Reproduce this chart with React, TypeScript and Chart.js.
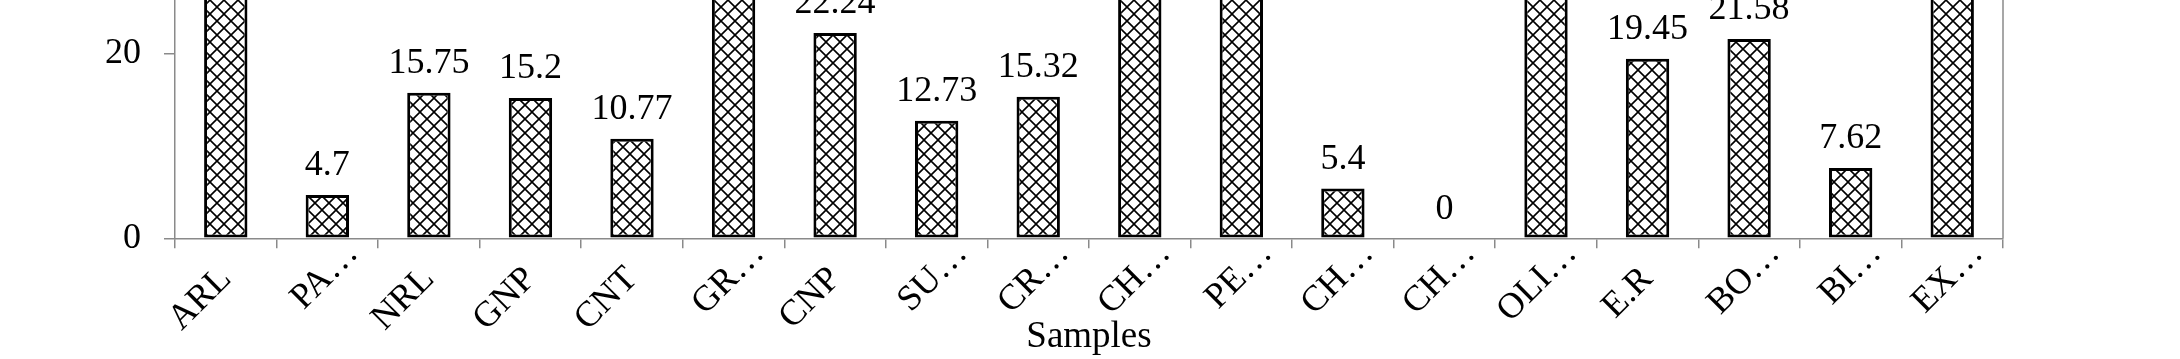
import React, { useEffect, useRef } from 'react';
import { Chart, registerables } from 'chart.js';

Chart.register(...registerables);

const categories = ['ARL', 'PA…', 'NRL', 'GNP', 'CNT', 'GR…', 'CNP', 'SU…', 'CR…', 'CH…', 'PE…', 'CH…', 'CH…', 'OLI…', 'E.R', 'BO…', 'BI…', 'EX…'];
const values = [31.2, 4.7, 15.75, 15.2, 10.77, 33.5, 22.24, 12.73, 15.32, 36.1, 38.4, 5.4, 0, 40.2, 19.45, 21.58, 7.62, 42.6];
const yTickValues = [0, 20];
const xTitle = 'Samples';

const FONT = '"Liberation Serif", "Times New Roman", serif';
const AXIS = '#8a8a8a';
const LABEL_SIZE = 36;
const X_TICK_LEN = 10;
const X_TICK_PAD = 10;

function makePattern(): CanvasPattern | string {
  const size = 14;
  const c = document.createElement('canvas');
  c.width = size;
  c.height = size;
  const g = c.getContext('2d');
  if (!g) return '#fff';
  g.fillStyle = '#ffffff';
  g.fillRect(0, 0, size, size);
  g.strokeStyle = '#000000';
  g.lineWidth = 1.6;
  g.beginPath();
  g.moveTo(0, 0);
  g.lineTo(size, size);
  g.moveTo(size, 0);
  g.lineTo(0, size);
  g.stroke();
  const p = g.createPattern(c, 'repeat');
  return p || '#fff';
}

const valueLabels = {
  id: 'valueLabels',
  afterDatasetsDraw(chart: any) {
    const ctx = chart.ctx;
    const meta = chart.getDatasetMeta(0);
    ctx.save();
    ctx.font = `${LABEL_SIZE}px ${FONT}`;
    ctx.fillStyle = '#000';
    ctx.textAlign = 'center';
    ctx.textBaseline = 'alphabetic';
    meta.data.forEach((bar: any, i: number) => {
      ctx.fillText(String(values[i]), bar.x, bar.y - 19.5);
    });
    ctx.restore();
  },
};

// Rotated category labels; truncated labels are aligned on their text body,
// with the ellipsis running past the anchor, as in the original.
const categoryLabels = {
  id: 'categoryLabels',
  afterDraw(chart: any) {
    const { ctx } = chart;
    const scale = chart.scales.x;
    const lh = LABEL_SIZE * 1.2;
    const rot = -Math.PI / 4;
    ctx.save();
    ctx.font = `${LABEL_SIZE}px ${FONT}`;
    ctx.fillStyle = '#000';
    ctx.textAlign = 'right';
    ctx.textBaseline = 'middle';
    const ellW = ctx.measureText('…').width;
    categories.forEach((label, i) => {
      const px = scale.getPixelForTick(i);
      const x = px + (lh / 2) * Math.sin(rot);
      const y = scale.top + X_TICK_LEN + X_TICK_PAD;
      const shift = label.endsWith('…') ? ellW : 0;
      ctx.save();
      ctx.translate(x, y);
      ctx.rotate(rot);
      ctx.fillText(label, shift, lh / 2);
      ctx.restore();
    });
    ctx.restore();
  },
};

const rightBorder = {
  id: 'rightBorder',
  afterDraw(chart: any) {
    const { ctx, chartArea } = chart;
    ctx.save();
    ctx.strokeStyle = AXIS;
    ctx.lineWidth = 1.5;
    ctx.beginPath();
    ctx.moveTo(chartArea.right, chartArea.top);
    ctx.lineTo(chartArea.right, chartArea.bottom);
    ctx.stroke();
    ctx.restore();
  },
};

export default function App() {
  const ref = useRef<HTMLCanvasElement | null>(null);

  useEffect(() => {
    if (!ref.current) return;
    const pattern = makePattern();
    const chart = new Chart(ref.current, {
      type: 'bar',
      data: {
        labels: categories,
        datasets: [
          {
            data: values,
            backgroundColor: pattern as any,
            borderColor: '#000',
            borderWidth: 3,
            borderSkipped: false,
            barPercentage: 0.427,
            categoryPercentage: 1,
          },
        ],
      },
      options: {
        responsive: false,
        animation: false,
        layout: { padding: { left: 0, right: 177, top: 0, bottom: 0 } },
        plugins: {
          legend: { display: false },
          tooltip: { enabled: false },
          title: { display: false },
        },
        scales: {
          x: {
            grid: {
              display: true,
              drawOnChartArea: false,
              drawTicks: true,
              tickLength: X_TICK_LEN,
              color: AXIS,
              lineWidth: 1.5,
              offset: true,
            },
            border: { display: true, color: AXIS, width: 1.5 },
            title: {
              display: true,
              text: xTitle,
              color: '#000',
              font: { family: FONT, size: 37, weight: 'normal', lineHeight: 1.2 },
              padding: { top: 0, bottom: 0 },
            },
            ticks: {
              display: false,
              autoSkip: false,
            },
            afterFit: (s: any) => {
              s.height = 120.7;
              s.paddingLeft = 0;
              s.paddingRight = 0;
            },
          },
          y: {
            min: 0,
            max: 25.8,
            afterBuildTicks: (s: any) => {
              s.ticks = yTickValues.map((v) => ({ value: v }));
            },
            ticks: {
              color: '#000',
              font: { family: FONT, size: LABEL_SIZE },
              padding: 23,
            },
            grid: {
              drawOnChartArea: false,
              drawTicks: true,
              tickLength: 11,
              color: AXIS,
              lineWidth: 1.5,
            },
            border: { display: true, color: AXIS, width: 1.5 },
            afterFit: (s: any) => {
              s.width = 175;
              s.paddingTop = 0;
              s.paddingBottom = 0;
            },
          },
        },
      },
      plugins: [valueLabels, categoryLabels, rightBorder],
    });
    return () => chart.destroy();
  }, []);

  return (
    <div style={{ position: 'absolute', left: 0, top: 0, width: 2180, height: 359, background: '#fff' }}>
      <canvas ref={ref} width={2180} height={359} style={{ display: 'block' }} />
    </div>
  );
}
